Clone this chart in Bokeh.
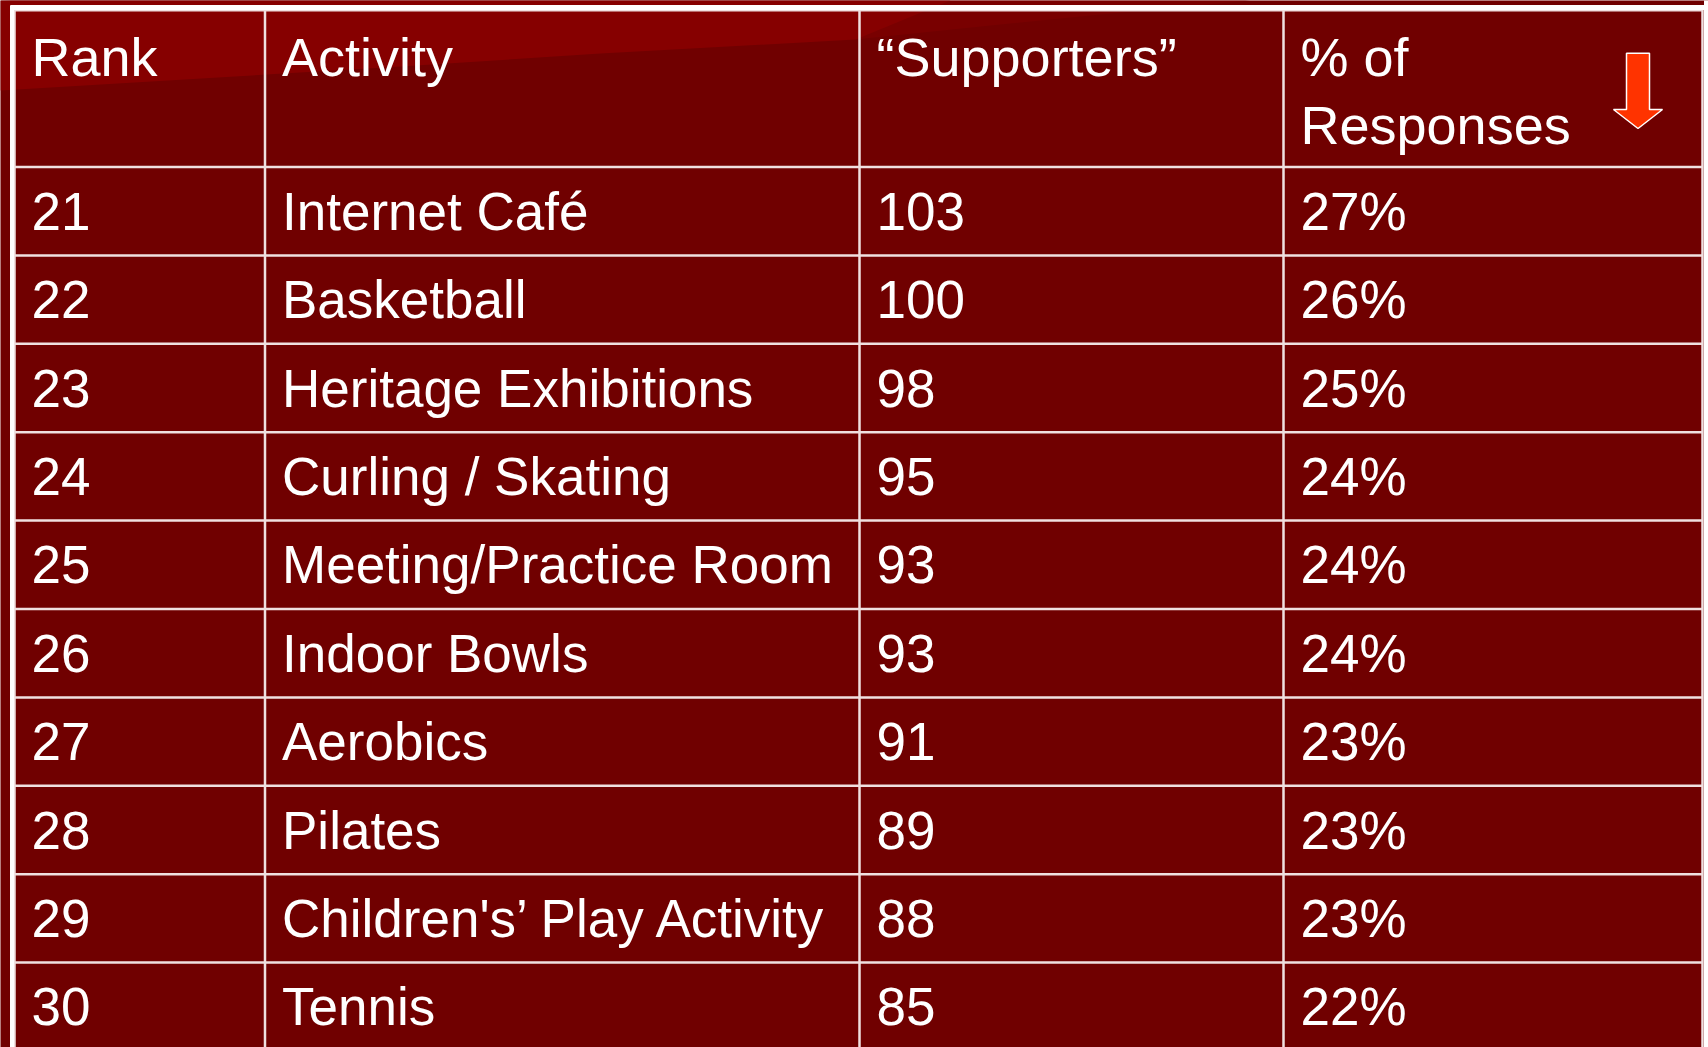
from bokeh.plotting import figure
from bokeh.models import Range1d, ColumnDataSource
from bokeh.core.properties import value
from bokeh.embed import file_html
from bokeh.resources import INLINE

# ---- data ----
headers = ["Rank", "Activity", "\u201cSupporters\u201d", "% of\nResponses"]
ranks = [21, 22, 23, 24, 25, 26, 27, 28, 29, 30]
activities = ["Internet Caf\u00e9", "Basketball", "Heritage Exhibitions", "Curling / Skating",
              "Meeting/Practice Room", "Indoor Bowls", "Aerobics", "Pilates",
              "Children's\u2019 Play Activity", "Tennis"]
supporters = [103, 100, 98, 95, 93, 93, 91, 89, 88, 85]
pct_responses = [27, 26, 25, 24, 24, 24, 23, 23, 23, 22]

# ---- layout (reference pixel coordinates) ----
W, H = 1708, 1047
col_edges = [14, 264.5, 859, 1283, 1702]
text_pad = 17
header_top, header_bottom = 9, 166.5
row_h = 88.4
font = value("Liberation Sans")
fs = "53px"

p = figure(width=W, height=H, x_range=Range1d(0, W), y_range=Range1d(H, 0),
           output_backend="svg", toolbar_location=None, min_border=0)
p.axis.visible = False
p.grid.visible = False
p.outline_line_color = None
p.background_fill_color = "#700000"
p.border_fill_color = "#700000"

# slide swoosh (lighter upper-left band, fading to the right)
p.patch([0, 1250, 1100, 1000, 855, 0], [0, 0, 14, 24, 39, 0],
        fill_color="#790000", line_color=None)
p.patch([0, 950, 855, 600, 400, 0], [0, 0, 39, 53, 66, 90],
        fill_color="#860000", line_color=None)
# white strip beyond slide right edge
p.quad(left=[1703.5], right=[1710], top=[-2], bottom=[1050], fill_color="white", line_color=None)

n = len(ranks)
row_tops = [header_bottom + i * row_h for i in range(n)]

# grid lines
line_col = "#f0e0e0"
hx0 = [col_edges[0]] * (n + 1)
hx1 = [col_edges[-1]] * (n + 1)
hy = [header_bottom + i * row_h for i in range(n + 1)]
p.segment(x0=hx0, y0=hy, x1=hx1, y1=hy, line_color=line_col, line_width=2.5)
vx = col_edges[:]
p.segment(x0=vx, y0=[header_top] * len(vx), x1=vx, y1=[1100] * len(vx),
          line_color=line_col, line_width=2.5)
p.segment(x0=[col_edges[0]], y0=[header_top + 1], x1=[col_edges[-1]], y1=[header_top + 1],
          line_color=line_col, line_width=2)
# outer thick border
p.segment(x0=[10], y0=[7], x1=[1705], y1=[7], line_color="white", line_width=5)
p.segment(x0=[11.5], y0=[5], x1=[11.5], y1=[1100], line_color="white", line_width=4)

# header text
hx, hy_, ht = [], [], []
for j, h in enumerate(headers):
    for k, part in enumerate(h.split("\n")):
        hx.append(col_edges[j] + text_pad)
        hy_.append(56 + k * 68)
        ht.append(part)
p.text(x=hx, y=hy_, text=ht, text_font=font, text_font_size="54px",
       text_color="white", text_baseline="middle", text_align="left")

# body text
cols = [[str(r) for r in ranks], activities, [str(s) for s in supporters],
        [f"{v}%" for v in pct_responses]]
for j, vals in enumerate(cols):
    src = ColumnDataSource(dict(
        x=[col_edges[j] + text_pad] * n,
        y=[t + row_h / 2 for t in row_tops],
        t=vals))
    p.text(x="x", y="y", text="t", source=src, text_font=font, text_font_size=fs,
           text_color="white", text_baseline="middle", text_align="left")

# down arrow in header
p.patch([1626, 1649, 1649, 1662, 1637.5, 1613, 1626],
        [52.7, 52.7, 109, 109, 128, 109, 109],
        fill_color="#ff3300", line_color="white", line_width=1.5)

open("out.html", "w").write(file_html(p, INLINE))
